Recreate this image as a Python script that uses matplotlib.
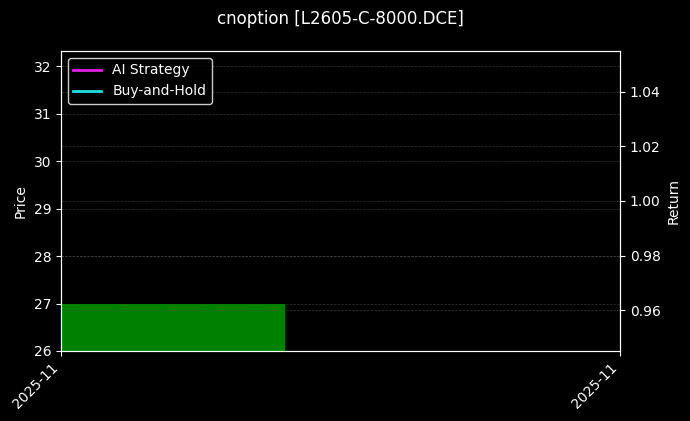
import matplotlib
matplotlib.use("Agg")
import matplotlib.pyplot as plt
import matplotlib.dates as mdates
import numpy as np
import datetime as dt

title = "cnoption [L2605-C-8000.DCE]"
dates = [dt.datetime(2025, 11, 20)]
bar_low = [26.0]
bar_high = [27.0]
strategy_ret = [1.0]
bh_ret = [1.0]

fig = plt.figure(figsize=(6.9, 4.21), dpi=100, facecolor="black")
ax = fig.add_axes([0.0884, 0.1663, 0.8102, 0.7127], facecolor="black")
ax2 = ax.twinx()

xnum = mdates.date2num(dates)
width = 0.4
ax.bar(xnum, np.array(bar_high) - np.array(bar_low), bottom=bar_low, width=width,
       align="edge", color="green", zorder=2)
ax.set_xlim(xnum[0], xnum[0] + width / 0.4)
ax.set_ylim(26, 32.32)
ax2.set_ylim(0.945, 1.055)

l1, = ax2.plot(xnum, strategy_ret, color="#e020e0", lw=2, label="AI Strategy")
l2, = ax2.plot(xnum, bh_ret, color="#20e0e0", lw=2, label="Buy-and-Hold")

ax.set_xticks([xnum[0], xnum[0] + width / 0.4])
ax.xaxis.set_major_formatter(mdates.DateFormatter("%Y-%m"))
plt.setp(ax.get_xticklabels(), rotation=45, ha="right")

for a in (ax, ax2):
    a.tick_params(colors="white", labelsize=10)
    for s in a.spines.values():
        s.set_color("white")
    a.grid(True, axis="y", color="#555555", linestyle="--", linewidth=0.5, alpha=0.6)
ax.grid(False, axis="x")

ax.set_ylabel("Price", color="white", fontsize=10)
ax2.set_ylabel("Return", color="white", fontsize=10)
fig.suptitle(title, color="white", fontsize=12, x=0.493, y=0.977)

leg = ax2.legend(handles=[l1, l2], loc="upper left", facecolor="black",
                 edgecolor="white", labelcolor="white", fontsize=10)

fig.savefig("out.png", dpi=100, facecolor="black")
